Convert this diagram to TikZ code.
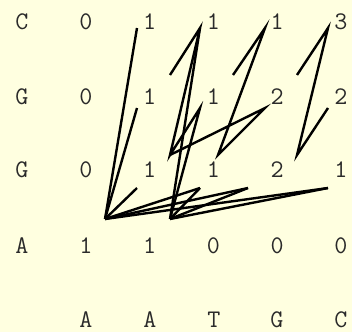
\documentclass[tikz,border=0pt]{standalone}
\definecolor{paper}{HTML}{FFFFE0}
\definecolor{ink}{HTML}{2A2A2A}
\tikzset{
  cell/.style={font=\ttfamily\fontsize{19}{19}\selectfont, text=ink, inner sep=0pt, anchor=center},
  link/.style={draw=black, line width=1.8pt}
}
\begin{document}
\begin{tikzpicture}[x=0.75pt, y=-0.75pt]
  \fill[paper] (0,0) rectangle (352,332);
  \useasboundingbox (0,0) rectangle (352,332);

  % row labels
  \node[cell] (rC)  at (22,22)  {C};
  \node[cell] (rG1) at (22,97)  {G};
  \node[cell] (rG2) at (22,170) {G};
  \node[cell] (rA)  at (22,246) {A};

  % column labels
  \node[cell] (cA1) at (86,320)  {A};
  \node[cell] (cA2) at (150,320) {A};
  \node[cell] (cT)  at (214,320) {T};
  \node[cell] (cG)  at (277,320) {G};
  \node[cell] (cC)  at (341,320) {C};

  % score matrix
  \foreach \v [count=\j] in {0,1,1,1,3} {
    \pgfmathsetmacro{\xx}{22+63.8*\j}
    \node[cell] (n1\j) at (\xx,22) {\v};
  }
  \foreach \v [count=\j] in {0,1,1,2,2} {
    \pgfmathsetmacro{\xx}{22+63.8*\j}
    \node[cell] (n2\j) at (\xx,97) {\v};
  }
  \foreach \v [count=\j] in {0,1,1,2,1} {
    \pgfmathsetmacro{\xx}{22+63.8*\j}
    \node[cell] (n3\j) at (\xx,170) {\v};
  }
  \foreach \v [count=\j] in {1,1,0,0,0} {
    \pgfmathsetmacro{\xx}{22+63.8*\j}
    \node[cell] (n4\j) at (\xx,246) {\v};
  }

  % traceback vertices
  \coordinate (t2) at (137,28);
  \coordinate (t3) at (200,28);
  \coordinate (t4) at (265,28);
  \coordinate (t5) at (328,28);
  \coordinate (s3) at (170,75);
  \coordinate (s4) at (233,75);
  \coordinate (s5) at (297,75);
  \coordinate (m2) at (137,108);
  \coordinate (m3) at (200,108);
  \coordinate (m4) at (265,108);
  \coordinate (m5) at (328,108);
  \coordinate (l3) at (170,155);
  \coordinate (l4) at (218,155);
  \coordinate (l5) at (297,155);
  \coordinate (b2) at (137,188);
  \coordinate (b3) at (200,188);
  \coordinate (b4) at (248,188);
  \coordinate (b5) at (328,188);
  \coordinate (h1) at (105,219);
  \coordinate (h2) at (170,219);

  % traceback links
  \draw[link] (t2) -- (h1);
  \draw[link] (m2) -- (h1);
  \draw[link] (b2) -- (h1);
  \draw[link] (h1) -- (b3);
  \draw[link] (h1) -- (b4);
  \draw[link] (h1) -- (b5);
  \draw[link] (h2) -- (b3);
  \draw[link] (h2) -- (b4);
  \draw[link] (h2) -- (b5);
  \draw[link] (s3) -- (t3) -- (l3) -- (m3) -- (h2);
  \draw[link] (t3) -- (h2);
  \draw[link] (s4) -- (t4) -- (l4) -- (m4) -- (l3);
  \draw[link] (s5) -- (t5) -- (l5) -- (m5);
\end{tikzpicture}
\end{document}
